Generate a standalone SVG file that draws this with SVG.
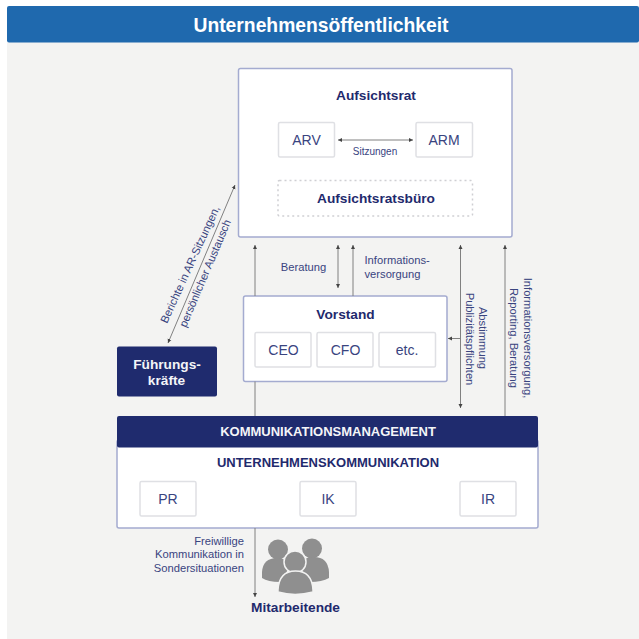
<svg xmlns="http://www.w3.org/2000/svg" width="639" height="639" viewBox="0 0 639 639">
<style>
text{font-family:"Liberation Sans",Arial,sans-serif;fill:#39447f;text-anchor:middle}
.b{font-weight:700;fill:#1f2a6d}
.w{font-weight:700;fill:#f4f5f8}
.big{stroke:#a4abd0;stroke-width:1.5;fill:#fff}
.sm{stroke:#dfe0e4;stroke-width:1.5;fill:#fff}
.dark{fill:#1f2b6e;stroke:none}
.l{stroke:#808080;stroke-width:1;fill:none}
.s{font-size:11.200px}
.m{font-size:14px}
.t{font-size:13.700px}
.c{font-size:13px}
</style>
<defs>
<marker id="a" markerWidth="5" markerHeight="5" refX="4" refY="2.500" orient="auto-start-reverse" markerUnits="userSpaceOnUse"><path d="M0,0.500L4,2.500L0,4.500z" fill="#444"/></marker>
</defs>
<rect width="639" height="639" fill="#fff"/>
<rect x="7" y="42" width="632" height="597" fill="#f3f3f2"/>
<g id="title"><rect x="7" y="6" width="632" height="36.500" rx="2" fill="#1f69ae"/><text x="321" y="31.500" class="w" style="font-size:19.300px;fill:#fff">Unternehmensöffentlichkeit</text></g>
<g id="aufsichtsrat"><rect class="big" x="238.500" y="68.500" width="273.500" height="168.500" rx="2"/><text x="376" y="100" class="b t">Aufsichtsrat</text></g>
<g id="arv"><rect class="sm" x="278.500" y="122.500" width="56" height="34.500" rx="1.500"/><text x="306.500" y="145" class="m">ARV</text></g>
<g id="arm"><rect class="sm" x="416" y="122.500" width="56.500" height="34.500" rx="1.500"/><text x="444" y="145" class="m">ARM</text></g>
<g id="buero"><rect x="278" y="180.500" width="194.500" height="35.500" rx="1.500" fill="#fff" stroke="#cfcfd3" stroke-width="1.500" stroke-dasharray="2 3"/><text x="376" y="203" class="b t">Aufsichtsratsbüro</text></g>
<g id="vorstand"><rect class="big" x="243.500" y="296" width="203.500" height="85.500" rx="2"/><text x="345.500" y="318.500" class="b t">Vorstand</text></g>
<g id="ceo"><rect class="sm" x="255" y="332.500" width="56" height="34.500" rx="1.500"/><text x="283.500" y="355" class="m">CEO</text></g>
<g id="cfo"><rect class="sm" x="317" y="332.500" width="56" height="34.500" rx="1.500"/><text x="345.500" y="355" class="m">CFO</text></g>
<g id="etc"><rect class="sm" x="379" y="332.500" width="56.500" height="34.500" rx="1.500"/><text x="407" y="355" class="m">etc.</text></g>
<g id="fuehrung"><rect class="dark" x="117" y="346.500" width="100" height="50" rx="2"/><text x="167" y="369" class="w t">Führungs-</text><text x="166.500" y="385" class="w t">kräfte</text></g>
<g id="kommunikationsmanagement"><rect class="big" x="117" y="440" width="421" height="88" rx="2"/><rect class="dark" x="117" y="416" width="421" height="31.500" rx="2"/><text x="328" y="436" class="w c">KOMMUNIKATIONSMANAGEMENT</text><text x="328" y="467" class="b c">UNTERNEHMENSKOMMUNIKATION</text></g>
<g id="pr"><rect class="sm" x="140" y="481.500" width="56" height="34.500" rx="1.500"/><text x="168" y="504" class="m">PR</text></g>
<g id="ik"><rect class="sm" x="300" y="481.500" width="56" height="34.500" rx="1.500"/><text x="328" y="504" class="m">IK</text></g>
<g id="ir"><rect class="sm" x="460" y="481.500" width="56" height="34.500" rx="1.500"/><text x="488" y="504" class="m">IR</text></g>
<g id="connectors">
<path class="l" d="M255,296V245" marker-end="url(#a)"/>
<path class="l" d="M255,381.500V416"/>
<path class="l" d="M338,245V288" marker-start="url(#a)" marker-end="url(#a)"/>
<path class="l" d="M353,296V245" marker-end="url(#a)"/>
<path class="l" d="M460.500,245V408" marker-start="url(#a)" marker-end="url(#a)"/>
<path class="l" d="M460,338.500H448" marker-end="url(#a)"/>
<path class="l" d="M505,416V245" marker-end="url(#a)"/>
<path class="l" d="M168,343L235,185" marker-start="url(#a)" marker-end="url(#a)"/>
<path class="l" d="M338,140H413" marker-start="url(#a)" marker-end="url(#a)"/>
<path class="l" d="M255,528V597" marker-end="url(#a)"/>
</g>
<g id="labels">
<text x="375" y="154.500" style="font-size:10px">Sitzungen</text>
<text x="303.500" y="271" class="s">Beratung</text>
<text x="364.500" y="264" class="s" style="text-anchor:start">Informations-</text>
<text x="364.500" y="278" class="s" style="text-anchor:start">versorgung</text>
<text transform="translate(167,324) rotate(-65.500)" class="s" style="text-anchor:start">Berichte in AR-Sitzungen,</text>
<text transform="translate(186,328) rotate(-67)" class="s" style="text-anchor:start">persönlicher Austausch</text>
<text transform="translate(479,338) rotate(90)" class="s">Abstimmung</text>
<text transform="translate(466,339) rotate(90)" class="s">Publizitätspflichten</text>
<text transform="translate(524,338) rotate(90)" class="s">Informationsversorgung,</text>
<text transform="translate(510,338) rotate(90)" class="s">Reporting, Beratung</text>
<text x="244" y="545" class="s" style="text-anchor:end">Freiwillige</text>
<text x="244" y="558" class="s" style="text-anchor:end">Kommunikation in</text>
<text x="244" y="572" class="s" style="text-anchor:end">Sondersituationen</text>
</g>
<g id="mitarbeitende">
<g fill="#8f8f8f">
<circle cx="278" cy="549.500" r="10"/><circle cx="312" cy="548.500" r="10"/>
<path d="M262,578V572Q263,558 277,558Q286,558 291,565L280,582Q268,582 262,578Z"/>
<path d="M329,578V572Q328,556 312,557Q302,558 298,565L310,582Q322,582 329,578Z"/>
<circle cx="295" cy="562" r="11" stroke="#f3f3f2" stroke-width="1.500"/>
<path d="M278,592V590Q279,571 295.500,571Q312,571 313,590V592Q295,597 278,592Z" stroke="#f3f3f2" stroke-width="1.500"/>
</g>
<text x="295.500" y="612" class="b t">Mitarbeitende</text>
</g>
</svg>
